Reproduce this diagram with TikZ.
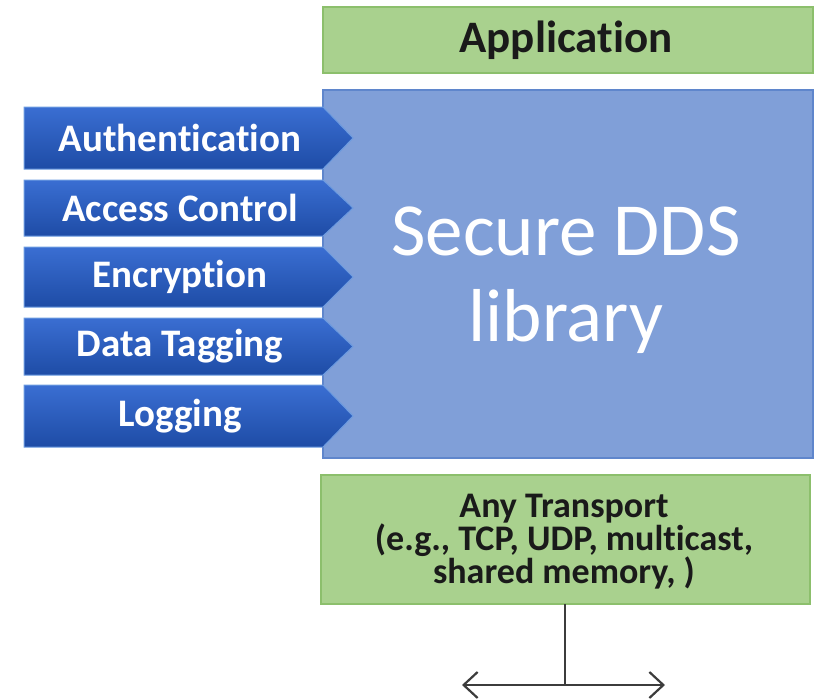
\documentclass[tikz,border=0pt]{standalone}
\usepackage{fontspec}
\setmainfont[Ligatures={NoCommon}]{Carlito}
\usetikzlibrary{arrows.meta}
\definecolor{gfill}{HTML}{A9D18E}
\definecolor{gdraw}{HTML}{8CBF6C}
\definecolor{bfill}{HTML}{809FD8}
\definecolor{bdraw}{HTML}{5F86CC}
\definecolor{atop}{HTML}{3A6ED2}
\definecolor{abot}{HTML}{1E4CA6}
\definecolor{aedge}{HTML}{6C9BE0}
\definecolor{lgray}{HTML}{3C3C3C}
\definecolor{tdark}{HTML}{1A1A1A}
\tikzset{
  greenbox/.style={draw=gdraw, line width=1.5pt, fill=gfill},
  bluebox/.style={draw=bdraw, line width=1.5pt, fill=bfill},
  chev/.style={top color=atop, bottom color=abot, draw=aedge, line width=1pt},
  chevtext/.style={text=white, font=\bfseries\fontsize{39}{42}\selectfont},
  linkline/.style={draw=lgray, line width=2.2pt},
}
\begin{document}
\begin{tikzpicture}[x=1pt,y=-1pt]
\useasboundingbox (0,0) rectangle (820,699);
% Application
\draw[greenbox] (323,7) rectangle (813,73);
\node[text=tdark, font=\bfseries\fontsize{45}{48}\selectfont] (app) at (566,40) {Application};
% Secure DDS library
\draw[bluebox] (323,90) rectangle (813,458);
\node[text=white, align=center, font=\fontsize{75}{86}\selectfont] (dds) at (566,280) {Secure DDS\\library};
% chevrons
\foreach \n/\t/\b/\lab in {auth/107/169/Authentication, acc/180/236/Access Control, enc/247/307/Encryption, tag/318/375/Data Tagging, log/385/447/Logging}{
  \shade[chev] (24,\t) -- (323,\t) -- (353,{(\t+\b)/2}) -- (323,\b) -- (24,\b) -- cycle;
  \node[chevtext] (\n) at (180,{(\t+\b)/2}) {\lab};
}
% Transport
\draw[greenbox] (321,475) rectangle (810,604);
\node[text=tdark, align=center, font=\bfseries\fontsize{36}{33}\selectfont] (tr) at (564,542) {Any Transport\\(e.g., TCP, UDP, multicast,\\shared memory, )};
\coordinate (trb) at (565,604);
\coordinate (mid) at (565,685);
\coordinate (lft) at (462,685);
\coordinate (rgt) at (665,685);
\draw[linkline] (trb) -- (mid);
\draw[linkline, {Straight Barb[length=14pt,width=26pt,line width=2.2pt]}-{Straight Barb[length=14pt,width=26pt,line width=2.2pt]}] (lft) -- (rgt);
\end{tikzpicture}
\end{document}
